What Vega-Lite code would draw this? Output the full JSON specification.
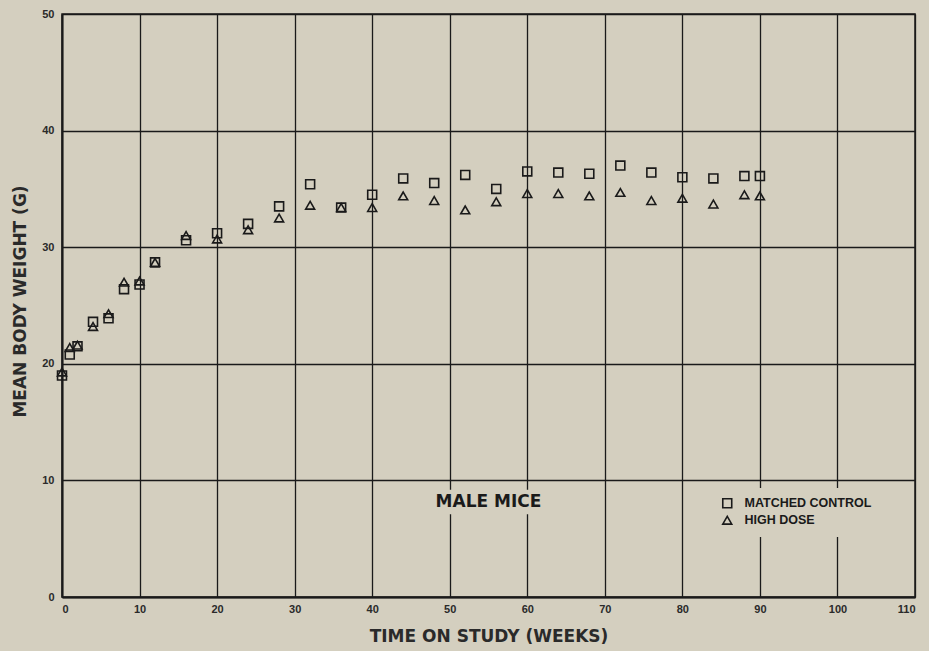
{
  "$schema": "https://vega.github.io/schema/vega-lite/v6.json",
  "width": 853,
  "height": 583,
  "autosize": {"type": "none"},
  "padding": {"left": 62, "top": 14, "right": 14, "bottom": 54},
  "background": "#d4cfbf",
  "config": {
    "view": {"stroke": "#1a1a1a", "strokeWidth": 1.5},
    "axis": {
      "gridColor": "#1a1a1a",
      "gridWidth": 1.3,
      "gridOpacity": 1,
      "domainColor": "#1a1a1a",
      "domainWidth": 2,
      "ticks": false,
      "labelFont": "Liberation Sans",
      "labelFontSize": 11,
      "labelFontWeight": "bold",
      "labelColor": "#2a2a2a",
      "titleFont": "DejaVu Sans",
      "titleFontSize": 17,
      "titleFontWeight": "bold",
      "titleColor": "#2a2a2a"
    }
  },
  "datasets": {
    "mice": [
      {"week": 0, "weight": 19.0, "group": "MATCHED CONTROL"},
      {"week": 1, "weight": 20.8, "group": "MATCHED CONTROL"},
      {"week": 2, "weight": 21.5, "group": "MATCHED CONTROL"},
      {"week": 4, "weight": 23.6, "group": "MATCHED CONTROL"},
      {"week": 6, "weight": 23.9, "group": "MATCHED CONTROL"},
      {"week": 8, "weight": 26.4, "group": "MATCHED CONTROL"},
      {"week": 10, "weight": 26.8, "group": "MATCHED CONTROL"},
      {"week": 12, "weight": 28.7, "group": "MATCHED CONTROL"},
      {"week": 16, "weight": 30.6, "group": "MATCHED CONTROL"},
      {"week": 20, "weight": 31.2, "group": "MATCHED CONTROL"},
      {"week": 24, "weight": 32.0, "group": "MATCHED CONTROL"},
      {"week": 28, "weight": 33.5, "group": "MATCHED CONTROL"},
      {"week": 32, "weight": 35.4, "group": "MATCHED CONTROL"},
      {"week": 36, "weight": 33.4, "group": "MATCHED CONTROL"},
      {"week": 40, "weight": 34.5, "group": "MATCHED CONTROL"},
      {"week": 44, "weight": 35.9, "group": "MATCHED CONTROL"},
      {"week": 48, "weight": 35.5, "group": "MATCHED CONTROL"},
      {"week": 52, "weight": 36.2, "group": "MATCHED CONTROL"},
      {"week": 56, "weight": 35.0, "group": "MATCHED CONTROL"},
      {"week": 60, "weight": 36.5, "group": "MATCHED CONTROL"},
      {"week": 64, "weight": 36.4, "group": "MATCHED CONTROL"},
      {"week": 68, "weight": 36.3, "group": "MATCHED CONTROL"},
      {"week": 72, "weight": 37.0, "group": "MATCHED CONTROL"},
      {"week": 76, "weight": 36.4, "group": "MATCHED CONTROL"},
      {"week": 80, "weight": 36.0, "group": "MATCHED CONTROL"},
      {"week": 84, "weight": 35.9, "group": "MATCHED CONTROL"},
      {"week": 88, "weight": 36.1, "group": "MATCHED CONTROL"},
      {"week": 90, "weight": 36.1, "group": "MATCHED CONTROL"},
      {"week": 0, "weight": 19.3, "group": "HIGH DOSE"},
      {"week": 1, "weight": 21.4, "group": "HIGH DOSE"},
      {"week": 2, "weight": 21.6, "group": "HIGH DOSE"},
      {"week": 4, "weight": 23.2, "group": "HIGH DOSE"},
      {"week": 6, "weight": 24.3, "group": "HIGH DOSE"},
      {"week": 8, "weight": 27.0, "group": "HIGH DOSE"},
      {"week": 10, "weight": 27.1, "group": "HIGH DOSE"},
      {"week": 12, "weight": 28.7, "group": "HIGH DOSE"},
      {"week": 16, "weight": 31.0, "group": "HIGH DOSE"},
      {"week": 20, "weight": 30.7, "group": "HIGH DOSE"},
      {"week": 24, "weight": 31.5, "group": "HIGH DOSE"},
      {"week": 28, "weight": 32.5, "group": "HIGH DOSE"},
      {"week": 32, "weight": 33.6, "group": "HIGH DOSE"},
      {"week": 36, "weight": 33.4, "group": "HIGH DOSE"},
      {"week": 40, "weight": 33.4, "group": "HIGH DOSE"},
      {"week": 44, "weight": 34.4, "group": "HIGH DOSE"},
      {"week": 48, "weight": 34.0, "group": "HIGH DOSE"},
      {"week": 52, "weight": 33.2, "group": "HIGH DOSE"},
      {"week": 56, "weight": 33.9, "group": "HIGH DOSE"},
      {"week": 60, "weight": 34.6, "group": "HIGH DOSE"},
      {"week": 64, "weight": 34.6, "group": "HIGH DOSE"},
      {"week": 68, "weight": 34.4, "group": "HIGH DOSE"},
      {"week": 72, "weight": 34.7, "group": "HIGH DOSE"},
      {"week": 76, "weight": 34.0, "group": "HIGH DOSE"},
      {"week": 80, "weight": 34.2, "group": "HIGH DOSE"},
      {"week": 84, "weight": 33.7, "group": "HIGH DOSE"},
      {"week": 88, "weight": 34.5, "group": "HIGH DOSE"},
      {"week": 90, "weight": 34.4, "group": "HIGH DOSE"}
    ],
    "labels": [
      {"week": 55, "weight": 8.15, "text": "MALE MICE", "week_from": 48.6, "week_to": 61.4, "weight_from": 7.1, "weight_to": 9.2}
    ]
  },
  "layer": [
    {
      "data": {"name": "labels"},
      "mark": {"type": "rect", "color": "#d4cfbf"},
      "encoding": {
        "x": {"field": "week_from", "type": "quantitative"},
        "x2": {"field": "week_to"},
        "y": {"field": "weight_from", "type": "quantitative"},
        "y2": {"field": "weight_to"}
      }
    },
    {
      "data": {"name": "mice"},
      "mark": {"type": "point", "filled": false, "stroke": "#1a1a1a", "strokeWidth": 1.6, "size": 80, "opacity": 1},
      "encoding": {
        "x": {
          "field": "week", "type": "quantitative",
          "scale": {"domain": [0, 110], "nice": false, "zero": true},
          "axis": {"values": [0, 10, 20, 30, 40, 50, 60, 70, 80, 90, 100, 110], "labelPadding": 6, "title": "TIME ON STUDY (WEEKS)", "titlePadding": 14}
        },
        "y": {
          "field": "weight", "type": "quantitative",
          "scale": {"domain": [0, 50], "nice": false},
          "axis": {"values": [0, 10, 20, 30, 40, 50], "labelPadding": 8, "title": "MEAN BODY WEIGHT (G)", "titlePadding": 12, "titleY": 287}
        },
        "shape": {
          "field": "group", "type": "nominal",
          "scale": {"domain": ["MATCHED CONTROL", "HIGH DOSE"], "range": ["square", "triangle-up"]},
          "legend": {
            "title": null, "orient": "none", "legendX": 650, "legendY": 474,
            "padding": 9, "fillColor": "#d4cfbf", "rowPadding": 2,
            "labelFont": "Liberation Sans", "labelFontSize": 12.5, "labelFontWeight": "bold",
            "labelColor": "#1a1a1a", "labelOffset": 11, "symbolStrokeColor": "#1a1a1a", "symbolStrokeWidth": 1.6,
            "symbolSize": 80, "symbolFillColor": "transparent"
          }
        }
      }
    },
    {
      "data": {"name": "labels"},
      "mark": {"type": "text", "font": "DejaVu Sans", "fontSize": 17, "fontWeight": "bold", "color": "#1a1a1a", "align": "center", "baseline": "middle"},
      "encoding": {
        "x": {"field": "week", "type": "quantitative"},
        "y": {"field": "weight", "type": "quantitative"},
        "text": {"field": "text"}
      }
    }
  ]
}
